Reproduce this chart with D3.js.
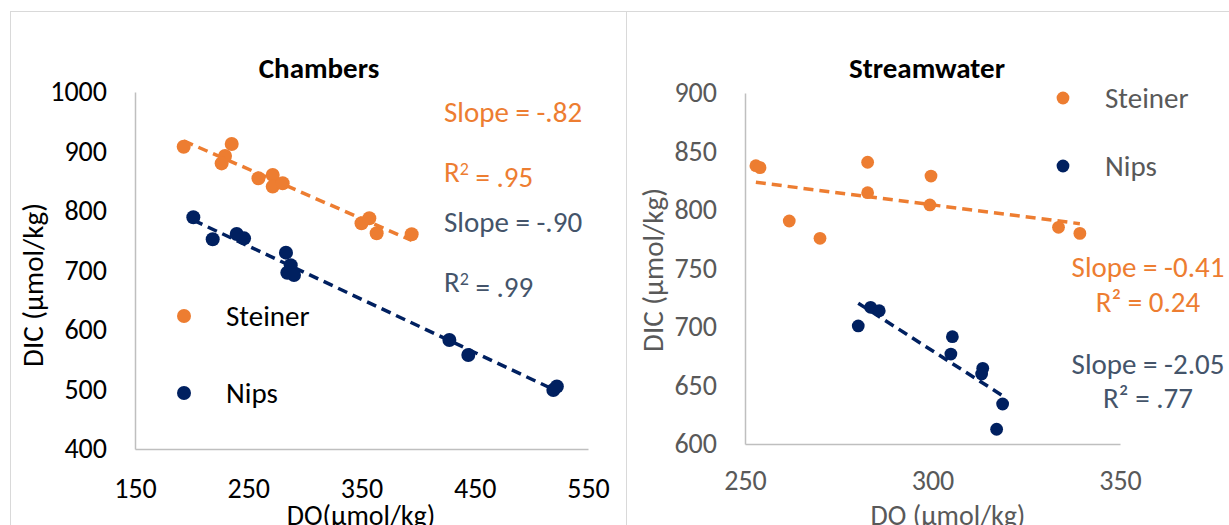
<!DOCTYPE html>
<html>
<head>
<meta charset="utf-8">
<script src="https://cdn.jsdelivr.net/npm/d3@7/dist/d3.min.js"></script>
<style>
  body { margin: 0; background: #fff; }
  svg { display: block; font-family: Calibri, Carlito, Lato, sans-serif; }
</style>
</head>
<body>
<svg id="chart" width="1229" height="525"></svg>
<script>
// ---- data ----
const seriesNames = ['Steiner', 'Nips']

// Chambers
const chambersSteinerDO  = [193, 235.4, 229.5, 226.5, 259, 271.6, 271.6, 280.4, 350, 356.9, 363.4, 394.3]
const chambersSteinerDIC = [908, 912.6, 892.5, 880, 855, 860.5, 841, 846.6, 779.3, 787.7, 762.5, 761]
const chambersNipsDO     = [201.5, 218.6, 239.8, 246.3, 283.3, 287.5, 284.5, 290.4, 427.6, 444.3, 519.4, 522.5]
const chambersNipsDIC    = [789.4, 752.4, 761.3, 754, 730, 709, 696.3, 692.5, 583.2, 558, 499.2, 505]
const chambersXTicks = [150, 250, 350, 450, 550]
const chambersYTicks = [400, 500, 600, 700, 800, 900, 1000]
const chambersNotes  = [['Slope = -.82', 'R2 = .95'], ['Slope = -.90', 'R2 = .99']]

// Streamwater
const streamSteinerDO  = [252.9, 254, 282.7, 282.7, 299.6, 299.3, 261.8, 270, 333.6, 339.3]
const streamSteinerDIC = [837.9, 836.2, 840.8, 814.8, 829, 804.3, 790.6, 775.8, 785.2, 780]
const streamNipsDO     = [280.2, 283.5, 285.8, 305.3, 304.9, 313.4, 313.1, 318.7, 317.1]
const streamNipsDIC    = [700.9, 716.8, 713.9, 691.7, 676.9, 664.7, 659.8, 634.2, 612.6]
const streamXTicks = [250, 300, 350]
const streamYTicks = [600, 650, 700, 750, 800, 850, 900]
const streamNotes  = [['Slope = -0.41', 'R2 = 0.24'], ['Slope = -2.05', 'R2 = .77']]

const colors = ['#ED7D31', '#002060']
const noteColors = ['#ED7D31', '#44546A']
const FS = 29

const svg = d3.select('#chart')

// panel frames
svg.append('rect').attr('x', 10.5).attr('y', 11.5).attr('width', 616).attr('height', 530)
    .attr('fill', 'none').attr('stroke', '#D9D9D9')
svg.append('rect').attr('x', 626.5).attr('y', 11.5).attr('width', 620).attr('height', 530)
    .attr('fill', 'none').attr('stroke', '#D9D9D9')

// least squares line, same as the Excel trendline
function fit(xs, ys) {
    const mx = d3.mean(xs), my = d3.mean(ys)
    let sxy = 0, sxx = 0
    xs.forEach((x, i) => { sxy += (x - mx) * (ys[i] - my); sxx += (x - mx) * (x - mx) })
    const slope = sxy / sxx
    return x => my + slope * (x - mx)
}

function addNote(g, str, x, y, color, anchor, superStyle) {
    const t = g.append('text').attr('x', x).attr('y', y).attr('dy', '0.35em')
        .attr('text-anchor', anchor).attr('fill', color).style('font-size', FS + 'px')
    if (str.startsWith('R2')) {
        t.append('tspan').text('R')
        if (superStyle) {
            t.append('tspan').attr('dy', '-0.42em').style('font-size', '18px').text('2')
            t.append('tspan').attr('dy', '0.42em').text(str.slice(2))
        } else {
            t.append('tspan').text('\u00B2' + str.slice(2))
        }
    } else {
        t.text(str)
    }
}

function drawPanel(p) {
    const g = svg.append('g')
    const x = d3.scaleLinear().domain(d3.extent(p.xTicks)).range([p.left, p.right])
    const y = d3.scaleLinear().domain(d3.extent(p.yTicks)).range([p.bottom, p.top])

    const xAxis = g.append('g')
        .attr('transform', 'translate(0,' + p.bottom + ')')
        .call(d3.axisBottom(x).tickValues(p.xTicks).tickSize(0).tickPadding(p.xPad).tickFormat(d3.format('d')))
    const yAxis = g.append('g')
        .attr('transform', 'translate(' + p.left + ',0)')
        .call(d3.axisLeft(y).tickValues(p.yTicks).tickSize(0).tickPadding(28).tickFormat(d3.format('d')))
    ;[xAxis, yAxis].forEach(a => {
        a.select('.domain').attr('stroke', '#BFBFBF').attr('stroke-width', 1.5)
        a.selectAll('text').attr('fill', p.tickColor).style('font-size', '28px')
        a.attr('font-family', null).attr('font-size', null)
    })

    // title + axis titles
    g.append('text').attr('x', p.titleX).attr('y', 68).attr('dy', '0.35em')
        .attr('text-anchor', 'middle').style('font-size', '29px').style('font-weight', 'bold')
        .attr('fill', '#000').text(p.title)
    g.append('text').attr('transform', 'translate(' + p.yLabelX + ',' + p.yLabelY + ') rotate(-90)')
        .attr('dy', '0.35em').attr('text-anchor', 'middle').style('font-size', FS + 'px')
        .attr('fill', p.tickColor).text('DIC (\u00B5mol/kg)')
    g.append('text').attr('x', p.xLabelX).attr('y', 515).attr('dy', '0.35em')
        .attr('text-anchor', 'middle').style('font-size', '28px')
        .attr('fill', p.tickColor).text(p.xLabel)

    // trendlines then points
    p.series.forEach((s, i) => {
        const f = fit(s.xs, s.ys)
        const ext = d3.extent(s.xs)
        g.append('line')
            .attr('x1', x(ext[0])).attr('y1', y(f(ext[0])))
            .attr('x2', x(ext[1])).attr('y2', y(f(ext[1])))
            .attr('stroke', colors[i]).attr('stroke-width', 3.5).attr('stroke-dasharray', '10,6')
    })
    p.series.forEach((s, i) => {
        g.append('g').selectAll('circle')
            .data(s.xs.map((v, k) => [v, s.ys[k]]))
            .join('circle')
            .attr('cx', d => x(d[0])).attr('cy', d => y(d[1]))
            .attr('r', p.r).attr('fill', colors[i])
    })

    // legend
    seriesNames.forEach((name, i) => {
        g.append('circle').attr('cx', p.legendX).attr('cy', p.legendY[i]).attr('r', p.r).attr('fill', colors[i])
        g.append('text').attr('x', p.legendX + 42).attr('y', p.legendY[i]).attr('dy', '0.35em')
            .style('font-size', FS + 'px').attr('fill', p.legendColor).text(name)
    })

    // slope / R2 notes
    p.notes.forEach((pair, i) => {
        pair.forEach((str, j) => {
            addNote(g, str, p.noteX, p.noteY[i][j], noteColors[i], p.noteAnchor, p.superStyle)
        })
    })
}

drawPanel({
    title: 'Chambers', titleX: 319, xLabel: 'DO(\u00B5mol/kg)', xLabelX: 361,
    yLabelX: 33, yLabelY: 285,
    left: 135, right: 588, top: 92, bottom: 449, xPad: 29,
    xTicks: chambersXTicks, yTicks: chambersYTicks, tickColor: '#000',
    series: [{ xs: chambersSteinerDO, ys: chambersSteinerDIC }, { xs: chambersNipsDO, ys: chambersNipsDIC }],
    r: 7, legendX: 184, legendY: [316, 393], legendColor: '#000',
    notes: chambersNotes, noteX: 444, noteY: [[112, 172], [222, 282]], noteAnchor: 'start', superStyle: true
})

drawPanel({
    title: 'Streamwater', titleX: 927, xLabel: 'DO (\u00B5mol/kg)', xLabelX: 948,
    yLabelX: 653, yLabelY: 270,
    left: 745, right: 1120, top: 93, bottom: 444, xPad: 26,
    xTicks: streamXTicks, yTicks: streamYTicks, tickColor: '#595959',
    series: [{ xs: streamSteinerDO, ys: streamSteinerDIC }, { xs: streamNipsDO, ys: streamNipsDIC }],
    r: 6.4, legendX: 1063, legendY: [98, 166], legendColor: '#595959',
    notes: streamNotes, noteX: 1148, noteY: [[267, 302], [364, 398]], noteAnchor: 'middle', superStyle: false
})
</script>
</body>
</html>
